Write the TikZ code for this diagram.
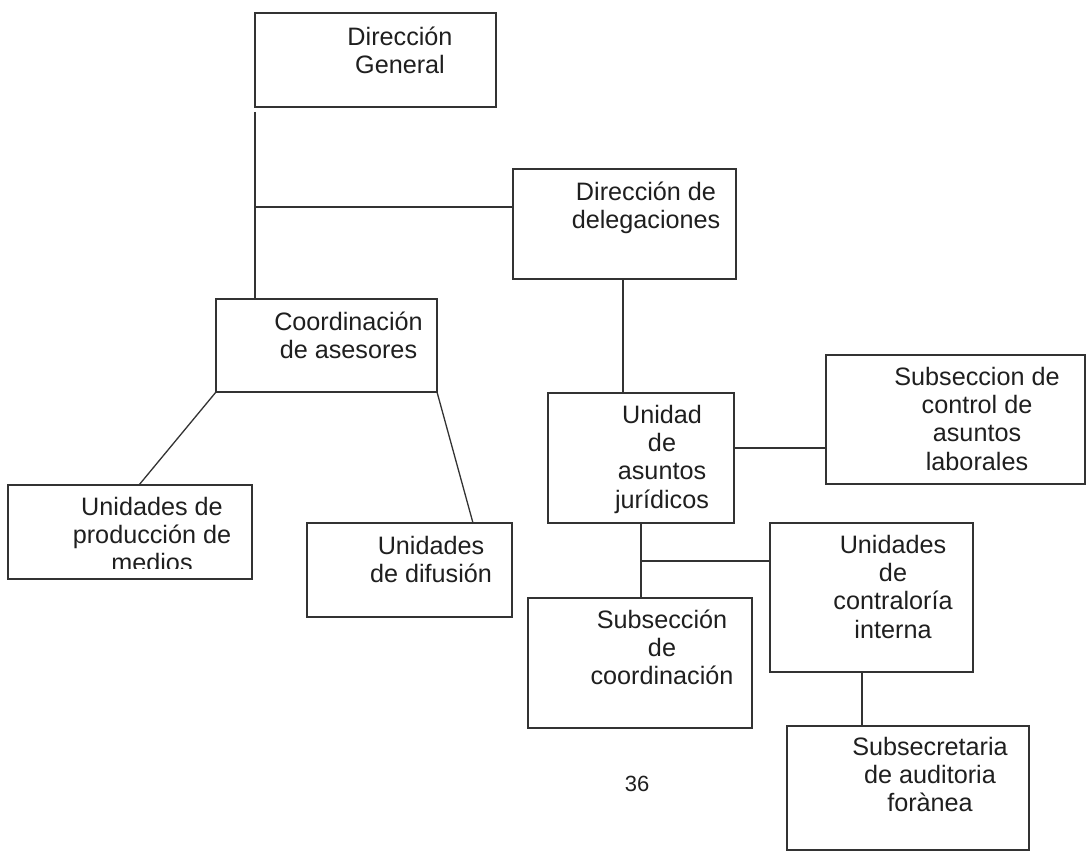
\documentclass[tikz,border=0pt]{standalone}
\usepackage{fontspec}
\setmainfont{Liberation Sans}
\begin{document}
\begin{tikzpicture}[x=1pt,y=-1pt,
  box/.style={draw=black!80, line width=1.3pt, rectangle, inner sep=0pt, outer sep=0pt},
  txt/.style={font=\fontsize{25.2}{28.4}\selectfont, align=center, anchor=north, inner sep=0pt, text=black!88},
  link/.style={draw=black!80, line width=1.3pt}]
\useasboundingbox[fill=white] (0,0) rectangle (1086,853);

% boxes
\node[box, minimum width=241pt, minimum height=94pt]  (dg)   at (375.5,60)   {};
\node[box, minimum width=223pt, minimum height=110pt] (dd)   at (624.5,224)  {};
\node[box, minimum width=221pt, minimum height=93pt]  (co)   at (326.5,345.5){};
\node[box, minimum width=244pt, minimum height=94pt]  (up)   at (130,532)    {};
\node[box, minimum width=205pt, minimum height=94pt]  (ud)   at (409.5,570)  {};
\node[box, minimum width=186pt, minimum height=130pt] (uaj)  at (641,458)    {};
\node[box, minimum width=259pt, minimum height=129pt] (sc)   at (955.5,419.5){};
\node[box, minimum width=224pt, minimum height=130pt] (scoo) at (640,663)    {};
\node[box, minimum width=203pt, minimum height=149pt] (ucon) at (871.5,597.5){};
\node[box, minimum width=242pt, minimum height=124pt] (ss)   at (908,788)    {};

% texts
\node[txt] (tdg)  at (400,25)    {\strut Dirección\\General};
\node[txt] (tdd)  at (646,180)   {\strut Dirección de\\delegaciones};
\node[txt] (tco)  at (348.5,310) {\strut Coordinación\\de asesores};
\begin{scope}
  \clip (up.north west) rectangle ([yshift=11pt]up.south east);
  \node[txt] (tup) at (152,495) {\strut Unidades de\\producción de\\medios};
\end{scope}
\node[txt] (tud)  at (431,534)   {\strut Unidades\\de difusión};
\node[txt] (tuaj) at (662,403)   {\strut Unidad\\de\\asuntos\\jurídicos};
\node[txt] (tsc)  at (977,365)   {\strut Subseccion de\\control de\\asuntos\\laborales};
\node[txt] (tsco) at (662,608)   {\strut Subsección\\de\\coordinación};
\node[txt] (tuco) at (893,533)   {\strut Unidades\\de\\contraloría\\interna};
\node[txt] (tss)  at (930,735)   {\strut Subsecretaria\\de auditoria\\forànea};
\node[font=\fontsize{22}{26}\selectfont, text=black!88, inner sep=0pt] (pg) at (637,784) {36};

% connectors
\draw[link] ([yshift=-5pt]dg.south west) -- (dg.south west |- co.north);
\coordinate (j1) at (255,207);
\draw[link] (j1) -- (j1 -| dd.west);
\draw[link] ([xshift=-1.5pt]dd.south) -- ([xshift=-1.5pt]dd.south |- uaj.north);
\draw[link] (co.south west) -- ([xshift=9pt]up.north);
\draw[link] (co.south east) -- ([xshift=63.5pt]ud.north);
\draw[link] ([yshift=10pt]uaj.east) -- ([yshift=10pt]uaj.east -| sc.west);
\draw[link] (uaj.south) -- (uaj.south |- scoo.north);
\coordinate (j2) at (641,561);
\draw[link] (j2) -- (j2 -| ucon.west);
\draw[link] ([xshift=-9.5pt]ucon.south) -- ([xshift=-9.5pt]ucon.south |- ss.north);
\end{tikzpicture}
\end{document}
